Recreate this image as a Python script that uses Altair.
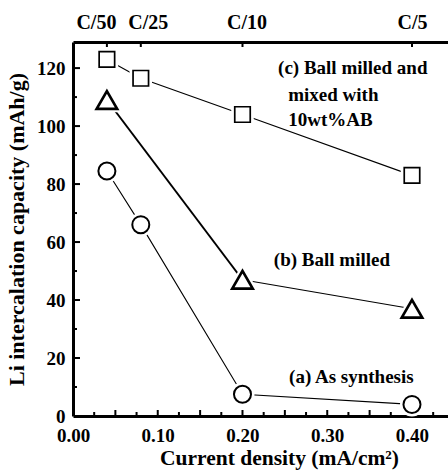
import json
import altair as alt
import pandas as pd

# ---- data ----
x_a = [0.04, 0.08, 0.20, 0.40]
y_a = [84.5, 66.0, 7.5, 4.0]          # (a) As synthesis  (circles)
x_b = [0.04, 0.20, 0.40]
y_b = [109.0, 47.0, 37.0]             # (b) Ball milled   (triangles)
x_c = [0.04, 0.08, 0.20, 0.40]
y_c = [123.0, 116.5, 104.0, 83.0]     # (c) Ball milled + 10wt%AB (squares)

bottom_label_values = [0.0, 0.1, 0.2, 0.3, 0.4]
y_label_values = [0, 20, 40, 60, 80, 100, 120]
top_tick_values = [0.04, 0.08, 0.2, 0.4]
top_tick_labels = ["C/50", "C/25", "C/10", "C/5"]
x_major_ticks = [0.05, 0.1, 0.15, 0.2, 0.25, 0.3, 0.35, 0.4]
x_minor_ticks = [0.025, 0.075, 0.125, 0.175, 0.225, 0.275, 0.325, 0.375, 0.425]
y_major_ticks = [20, 40, 60, 80, 100, 120]
y_minor_ticks = [10, 30, 50, 70, 90, 110]

ann_text = ["(c) Ball milled and", "mixed with", "10wt%AB", "(b) Ball milled", "(a)  As synthesis"]
ann_x = [0.242, 0.254, 0.254, 0.237, 0.255]
ann_y = [120.0, 110.7, 102.0, 53.8, 13.4]

FONT = "Liberation Serif"
W, H = 375, 374
xs = alt.Scale(domain=[0, 0.4425], nice=False, zero=False)
ys = alt.Scale(domain=[0, 129], nice=False, zero=False)

df_a = pd.DataFrame({"x": x_a, "y": y_a})
df_b = pd.DataFrame({"x": x_b, "y": y_b})
df_c = pd.DataFrame({"x": x_c, "y": y_c})
# triangle series: first segment drawn heavier than the second
df_b1 = pd.DataFrame({"x": x_b[0:2], "y": y_b[0:2]})
df_b2 = pd.DataFrame({"x": x_b[1:3], "y": y_b[1:3]})
df_ann = pd.DataFrame({"t": ann_text, "x": ann_x, "y": ann_y})

bottom_axis = alt.Axis(
    orient="bottom", values=bottom_label_values, format=".2f", ticks=False,
    grid=False, domainWidth=3, domainColor="black", labelFont=FONT,
    labelFontSize=19, labelFontWeight="bold", labelColor="black",
    labelPadding=10, labelOverlap=False, labelFlush=False,
    title="Current density (mA/cm²)",
    titleFont=FONT, titleFontSize=21.5, titleFontWeight="bold",
    titleColor="black", titlePadding=2, titleX=206,
)
left_axis = alt.Axis(
    orient="left", values=y_label_values, ticks=False, grid=False,
    domainWidth=3, domainColor="black", labelFont=FONT, labelFontSize=19,
    labelFontWeight="bold", labelColor="black", labelPadding=8,
    labelOverlap=False, labelFlush=False,
    title="Li  intercalation capacity (mAh/g)",
    titleFont=FONT, titleFontSize=22, titleFontWeight="bold",
    titleColor="black", titlePadding=8,
)
top_label_expr = (
    f"{json.dumps(top_tick_labels)}[indexof({json.dumps(top_tick_values)}, datum.value)]"
)
top_axis = alt.Axis(
    orient="top", values=top_tick_values, labelExpr=top_label_expr,
    ticks=False, grid=False, domainWidth=3, domainColor="black",
    labelFont=FONT, labelFontSize=20, labelFontWeight="bold",
    labelColor="black", labelPadding=10, labelOverlap=False, labelFlush=False,
    title=None,
    labelOffset={"condition": [
        {"test": "datum.value < 0.06", "value": -11},
        {"test": "datum.value < 0.1", "value": 7},
        {"test": "datum.value < 0.3", "value": 4},
    ], "value": 0},
)

enc = dict(x=alt.X("x:Q", scale=xs, axis=None), y=alt.Y("y:Q", scale=ys, axis=None))

def line(df, sw):
    return alt.Chart(df).mark_line(color="black", strokeWidth=sw).encode(**enc)

def halo(df, shape, size):
    return alt.Chart(df).mark_point(
        shape=shape, size=size, filled=True, fill="white", stroke="white",
        strokeWidth=7, opacity=1,
    ).encode(**enc)

def pts(df, shape, size, sw):
    return alt.Chart(df).mark_point(
        shape=shape, size=size, filled=True, fill="white", stroke="black",
        strokeWidth=sw, opacity=1,
    ).encode(**enc)

# axes carriers
base_axes = alt.Chart(df_c).mark_point(opacity=0).encode(
    x=alt.X("x:Q", scale=xs, axis=bottom_axis),
    y=alt.Y("y:Q", scale=ys, axis=left_axis),
)

top_ticks = alt.Chart(pd.DataFrame({"x": top_tick_values})).mark_rule(
    color="black", strokeWidth=2
).encode(
    x=alt.X("x:Q", scale=xs, axis=top_axis),
    y=alt.value(0), y2=alt.value(5),
)
xmaj = alt.Chart(pd.DataFrame({"x": x_major_ticks})).mark_rule(color="black", strokeWidth=2).encode(
    x=alt.X("x:Q", scale=xs, axis=None), y=alt.value(H), y2=alt.value(H - 6))
xmin = alt.Chart(pd.DataFrame({"x": x_minor_ticks})).mark_rule(color="black", strokeWidth=2).encode(
    x=alt.X("x:Q", scale=xs, axis=None), y=alt.value(H), y2=alt.value(H - 4))
ymaj = alt.Chart(pd.DataFrame({"y": y_major_ticks})).mark_rule(color="black", strokeWidth=2).encode(
    y=alt.Y("y:Q", scale=ys, axis=None), x=alt.value(0), x2=alt.value(7))
ymin = alt.Chart(pd.DataFrame({"y": y_minor_ticks})).mark_rule(color="black", strokeWidth=2).encode(
    y=alt.Y("y:Q", scale=ys, axis=None), x=alt.value(0), x2=alt.value(4))

ann = alt.Chart(df_ann).mark_text(
    align="left", baseline="middle", font=FONT, fontSize=19,
    fontWeight="bold", color="black",
).encode(text="t:N", **enc)

chart = alt.layer(
    base_axes, top_ticks, xmaj, xmin, ymaj, ymin,
    line(df_c, 1.1), line(df_b1, 2.0), line(df_b2, 1.2), line(df_a, 1.1),
    halo(df_c, "square", 240), halo(df_b, "triangle-up", 420), halo(df_a, "circle", 290),
    pts(df_c, "square", 240, 1.7),
    pts(df_b, "triangle-up", 420, 2.7),
    pts(df_a, "circle", 290, 2.0),
    ann,
).resolve_axis(x="independent", y="independent").properties(
    width=W, height=H,
    autosize=alt.AutoSizeParams(type="none"),
    padding={"left": 73, "top": 42, "right": 0, "bottom": 59},
    background="white",
).configure_view(stroke=None)

chart.save("out.html", embed_options={"renderer": "svg", "actions": False})
